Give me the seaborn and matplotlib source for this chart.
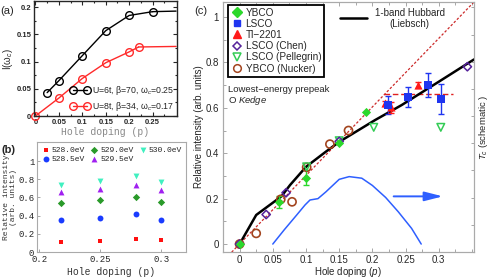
import numpy as np
import matplotlib
matplotlib.use('Agg')
import matplotlib.pyplot as plt
from matplotlib.lines import Line2D
import seaborn as sns

# ---- panel (a): I(omega_c) vs doping
p_a_u6 = [0.025, 0.05, 0.1, 0.15, 0.2, 0.25]
i_a_u6 = [0.043, 0.065, 0.111, 0.157, 0.185, 0.192]
p_a_u6_tail = [0.25, 0.3]
i_a_u6_tail = [0.192, 0.193]
p_a_u8 = [0, 0.05, 0.1, 0.15, 0.2, 0.22]
i_a_u8 = [0, 0.033, 0.069, 0.098, 0.118, 0.127]
p_a_u8_tail = [0.22, 0.3]
i_a_u8_tail = [0.127, 0.128]
labels_a = ['U=6t, β=70, ω$_c$=0.25', 'U=8t, β=34, ω$_c$=0.17']

# ---- panel (b): relative intensity per photon energy
p_b = [0.218, 0.25, 0.279, 0.30]
i_528_0 = [0.107, 0.118, 0.148, 0.13]
i_528_5 = [0.35, 0.37, 0.42, 0.35]
i_529_0 = [0.54, 0.57, 0.61, 0.55]
i_529_5 = [0.66, 0.69, 0.74, 0.68]
i_530_0 = [0.74, 0.78, 0.84, 0.77]
energies_b = ['528.0eV', '528.5eV', '529.0eV', '529.5eV', '530.0eV']

# ---- panel (c): prepeak intensity
p_ybco = [0, 0.06, 0.1, 0.15, 0.19]
i_ybco = [0, 0.186, 0.292, 0.445, 0.583]
e_ybco = [0, 0.027, 0.033, 0, 0]
p_lsco = [0.2235, 0.253, 0.283, 0.303]
i_lsco = [0.612, 0.649, 0.70, 0.639]
e_lsco = [0.04, 0.044, 0.054, 0.068]
p_tl = [0.2196, 0.228, 0.268]
i_tl = [0.62, 0.602, 0.70]
e_tl = [0.012, 0.025, 0.012]
p_chen = [0, 0.04, 0.07, 0.15, 0.343]
i_chen = [0, 0.13, 0.226, 0.452, 0.781]
p_pell = [0.101, 0.15, 0.202, 0.303]
i_pell = [0.34, 0.455, 0.514, 0.514]
p_nuck = [0, 0.025, 0.062, 0.079, 0.101, 0.136, 0.164]
i_nuck = [0, 0.047, 0.197, 0.186, 0.338, 0.44, 0.5]
p_hub = [0, 0.025, 0.063, 0.076, 0.1, 0.13, 0.15, 0.204, 0.244, 0.3, 0.353]
i_hub = [0, 0.128, 0.21, 0.26, 0.34, 0.407, 0.45, 0.546, 0.612, 0.715, 0.813]
p_diag = [-0.012, 0.353]
i_diag = [-0.036, 1.066]
p_flat = [0.218, 0.322]
i_flat = [0.66, 0.66]
p_tc = [0.05, 0.067, 0.086, 0.0985, 0.106, 0.118, 0.13, 0.15, 0.165, 0.184,
        0.2, 0.22, 0.239, 0.259, 0.2735]
i_tc = [0, 0.062, 0.128, 0.172, 0.194, 0.2, 0.23, 0.285, 0.297, 0.29,
        0.258, 0.205, 0.142, 0.069, 0]
arrow_p = [0.232, 0.306]
arrow_i = 0.21

sns.set_style('ticks')
plt.rcParams['font.family'] = ['Liberation Sans', 'DejaVu Sans']
plt.rcParams['mathtext.fontset'] = 'custom'
plt.rcParams['mathtext.rm'] = 'Liberation Sans'
plt.rcParams['mathtext.it'] = 'Liberation Sans:italic'

W, H = 491, 280
fig = plt.figure(figsize=(W / 100, H / 100), dpi=100)


def box(l, t, r, b):
    return [l / W, 1 - b / H, (r - l) / W, (b - t) / H]


ax_a = fig.add_axes(box(34, 1, 177, 116))
ax_b = fig.add_axes(box(37, 142, 186, 252))
ax_c = fig.add_axes(box(223, 2, 474, 252))

# ================= panel (a)
red_a = '#ff2a2a'
for p, i, pt, it, c, lab in [(p_a_u6, i_a_u6, p_a_u6_tail, i_a_u6_tail, 'black', labels_a[0]),
                             (p_a_u8, i_a_u8, p_a_u8_tail, i_a_u8_tail, red_a, labels_a[1])]:
    sns.lineplot(x=pt, y=it, ax=ax_a, color=c, lw=1, clip_on=False)
    sns.lineplot(x=p, y=i, ax=ax_a, color=c, lw=1, marker='o', markersize=5.5,
                 markerfacecolor='none', markeredgecolor=c, markeredgewidth=1,
                 label=lab, clip_on=False)
ax_a.set_xlim(-0.003, 0.302)
ax_a.set_ylim(0, 0.2116)
ax_a.set_xticks([0, 0.05, 0.1, 0.15, 0.2, 0.25])
ax_a.set_xticklabels(['0', '0.05', '0.1', '0.15', '0.2', '0.25'])
ax_a.set_yticks([0, 0.05, 0.1, 0.15, 0.2])
ax_a.set_yticklabels(['0', '0.05', '0.1', '0.15', '0.2'])
ax_a.set_xticks(np.arange(0.025, 0.3, 0.05), minor=True)
ax_a.set_yticks(np.arange(0.025, 0.2, 0.05), minor=True)
ax_a.tick_params(which='both', direction='in', top=True, right=True, labelsize=5.5,
                 width=0.8, pad=2)
ax_a.tick_params(which='major', length=3)
ax_a.tick_params(which='minor', length=1.5)
for t in ax_a.get_xticklabels() + ax_a.get_yticklabels():
    t.set_fontweight('bold')
for s in ax_a.spines.values():
    s.set_linewidth(1)
ax_a.set_xlabel('Hole doping (p)', family='Liberation Mono', fontsize=7,
                color='#888888', labelpad=1)
ax_a.set_ylabel('I(ω$_c$)', fontsize=7, labelpad=1)
ax_a.legend(loc='lower right', frameon=False, fontsize=6.3, numpoints=2,
            handlelength=2.2, handletextpad=0.3, borderaxespad=0.1,
            labelspacing=0.35, borderpad=0.2)

# ================= panel (b)
series_b = [i_528_0, i_528_5, i_529_0, i_529_5, i_530_0]
markers_b = ['s', 'o', 'D', '^', 'v']
colors_b = ['#ff1010', '#1a3cff', '#2a9a2a', '#a020f0', '#40f0c0']
sizes_b = [12, 18, 14, 18, 18]
for vals, lab, m, c, s in zip(series_b, energies_b, markers_b, colors_b, sizes_b):
    sns.scatterplot(x=p_b, y=vals, ax=ax_b, marker=m, color=c, s=s,
                    linewidth=0, label=lab)
ax_b.set_xlim(0.198, 0.3205)
ax_b.set_ylim(0, 1.21)
ax_b.set_xticks([0.2, 0.25, 0.3])
ax_b.set_xticklabels(['0.2', '0.25', '0.3'])
ax_b.set_yticks([0, 0.2, 0.4, 0.6, 0.8, 1.0])
ax_b.set_yticklabels(['0', '0.2', '0.4', '0.6', '0.8', '1'])
ax_b.tick_params(direction='in', labelsize=6.5, length=2.5, width=0.6,
                 color='#999999', pad=2)
for t in ax_b.get_xticklabels() + ax_b.get_yticklabels():
    t.set_family('Liberation Mono')
for s in ax_b.spines.values():
    s.set_color('#aaaaaa')
    s.set_linewidth(0.8)
ax_b.set_xlabel('Hole doping (p)', family='Liberation Mono', fontsize=7,
                color='#333333', labelpad=2)
ax_b.set_ylabel('Relative intensity\n(arb. units)', family='Liberation Mono',
                fontsize=5.8, color='#333333', labelpad=1, linespacing=1.0)
ax_b.legend(loc='upper left', bbox_to_anchor=(0.0, 1.0), ncol=3, frameon=False,
            prop={'family': 'Liberation Mono', 'size': 5.8}, handletextpad=0.1,
            columnspacing=0.6, borderaxespad=0.1, labelspacing=0.25,
            handlelength=1.2, markerscale=1.0)

# ================= panel (c)
c_ybco = '#2bd82b'
c_lsco = '#1f35f0'
c_tl = '#ff1a1a'
c_chen = '#55229a'
c_pell = '#33cc55'
c_nuck = '#a3451f'
c_tc = '#2e5fff'

sns.lineplot(x=p_diag, y=i_diag, ax=ax_c, color='#cc2a2a', lw=0.9,
             linestyle=(0, (2, 1.5)), zorder=2)
sns.lineplot(x=p_flat, y=i_flat, ax=ax_c, color='#e02020', lw=1.0,
             linestyle=(0, (4, 2)), zorder=2)
sns.lineplot(x=p_hub, y=i_hub, ax=ax_c, color='black', lw=1.8, zorder=3,
             sort=False)
sns.lineplot(x=p_tc, y=i_tc, ax=ax_c, color=c_tc, lw=1.1, zorder=3, sort=False)
ax_c.annotate('', xy=(arrow_p[1], arrow_i), xytext=(arrow_p[0], arrow_i),
              arrowprops=dict(arrowstyle='-|>,head_length=1.1,head_width=0.28',
                              color=c_tc, lw=1.4, shrinkA=0, shrinkB=0))

# error bars
for p, i, e, c in [(p_ybco, i_ybco, e_ybco, c_ybco), (p_lsco, i_lsco, e_lsco, c_lsco),
                   (p_tl, i_tl, e_tl, c_tl)]:
    p, i, e = np.array(p), np.array(i), np.array(e)
    keep = e > 0
    ax_c.errorbar(p[keep], i[keep], yerr=e[keep], fmt='none', ecolor=c,
                  elinewidth=1, capsize=2.5, capthick=1, zorder=4)

sns.scatterplot(x=p_nuck, y=i_nuck, ax=ax_c, marker='o', s=34, facecolor='none',
                edgecolor=c_nuck, linewidth=1.2, zorder=5, clip_on=False)
sns.scatterplot(x=p_pell, y=i_pell, ax=ax_c, marker='v', s=30, facecolor='none',
                edgecolor=c_pell, linewidth=1.1, zorder=5)
sns.scatterplot(x=p_chen, y=i_chen, ax=ax_c, marker='D', s=18, facecolor='none',
                edgecolor=c_chen, linewidth=1.1, zorder=6, clip_on=False)
sns.scatterplot(x=p_tl, y=i_tl, ax=ax_c, marker='^', s=34, color=c_tl,
                linewidth=0, zorder=6)
sns.scatterplot(x=p_lsco, y=i_lsco, ax=ax_c, marker='s', s=26, color=c_lsco,
                linewidth=0, zorder=6)
sns.scatterplot(x=p_ybco, y=i_ybco, ax=ax_c, marker='D', s=22, color=c_ybco,
                linewidth=0, zorder=7, clip_on=False)

ax_c.set_xlim(-0.0162, 0.353)
ax_c.set_ylim(-0.035, 1.066)
ax_c.set_xticks([0, 0.05, 0.1, 0.15, 0.2, 0.25, 0.3])
ax_c.set_xticklabels(['0', '0.05', '0.1', '0.15', '0.2', '0.25', '0.3'])
ax_c.set_yticks([0, 0.2, 0.4, 0.6, 0.8, 1.0])
ax_c.set_yticklabels(['0', '0.2', '0.4', '0.6', '0.8', '1'])
ax_c.set_xticks(np.arange(-0.025, 0.36, 0.025), minor=True)
ax_c.set_yticks(np.arange(0.1, 1.05, 0.2), minor=True)
ax_c.tick_params(which='both', direction='in', top=True, labelsize=7,
                 color='#999999', width=0.6)
ax_c.tick_params(axis='x', pad=2)
ax_c.tick_params(axis='y', pad=3)
ax_c.tick_params(which='major', length=3)
ax_c.tick_params(which='minor', length=2)
for s in ax_c.spines.values():
    s.set_color('#aaaaaa')
    s.set_linewidth(0.8)
ax_c.set_xlabel('Hole doping ($p$)', fontsize=7, labelpad=0)
ax_c.set_ylabel('Relative intensity (arb. units)', fontsize=7, labelpad=1)

ax_r = ax_c.twinx()
ax_r.set_ylim(0, 9.2)
ax_r.set_yticks(np.arange(0, 10))
ax_r.set_yticklabels([])
ax_r.tick_params(direction='in', color='#999999', width=0.6, length=2.5)
for s in ax_r.spines.values():
    s.set_color('#aaaaaa')
    s.set_linewidth(0.8)
fig.text(483 / W, 1 - 127 / H, '$T_c$ (schematic )', fontsize=6.8, rotation=90,
         ha='center', va='center')

handles = [
    Line2D([], [], ls='none', marker='D', ms=5, color=c_ybco, mec=c_ybco),
    Line2D([], [], ls='none', marker='s', ms=5, color=c_lsco, mec=c_lsco),
    Line2D([], [], ls='none', marker='^', ms=6, color=c_tl, mec=c_tl),
    Line2D([], [], ls='none', marker='D', ms=4.5, mfc='none', mec=c_chen, mew=1.1),
    Line2D([], [], ls='none', marker='v', ms=5.5, mfc='none', mec=c_pell, mew=1.1),
    Line2D([], [], ls='none', marker='o', ms=5.5, mfc='none', mec=c_nuck, mew=1.1),
]
names = ['YBCO', 'LSCO', 'Tl−2201', 'LSCO (Chen)', 'LSCO (Pellegrin)', 'YBCO (Nucker)']
leg = ax_c.legend(handles, names, loc='upper left', bbox_to_anchor=(0.018, 0.99),
                  fontsize=7.2, frameon=True, fancybox=False, edgecolor='black',
                  handletextpad=0.3, borderpad=0.3, labelspacing=0.12,
                  handlelength=1.2, borderaxespad=0)
leg.get_frame().set_linewidth(1.3)
leg.get_frame().set_alpha(None)
leg.set_zorder(10)

ax_c.text(0.018, 0.652, 'Lowest−energy prepeak', transform=ax_c.transAxes,
          fontsize=6.8, va='center', ha='left')
ax_c.text(0.018, 0.607, 'O $\\mathit{K}$$\\mathit{edge}$', transform=ax_c.transAxes,
          fontsize=6.8, va='center', ha='left')

# Hubbard key
ax_c.add_line(Line2D([0.466, 0.572], [0.935, 0.935], transform=ax_c.transAxes,
                     color='black', lw=1.8))
ax_c.text(0.605, 0.975, '1-band Hubbard\n(Liebsch)', transform=ax_c.transAxes,
          fontsize=7, va='top', ha='left', multialignment='center', linespacing=1.15)

fig.text(7 / W, 1 - 11 / H, '(a)', fontsize=8, ha='center', va='center')
fig.text(9 / W, 1 - 150 / H, '(b)', fontsize=8, ha='center', va='center',
         fontweight='bold')
fig.text(201 / W, 1 - 11 / H, '(c)', fontsize=8, ha='center', va='center')

fig.savefig('out.png', dpi=100)
